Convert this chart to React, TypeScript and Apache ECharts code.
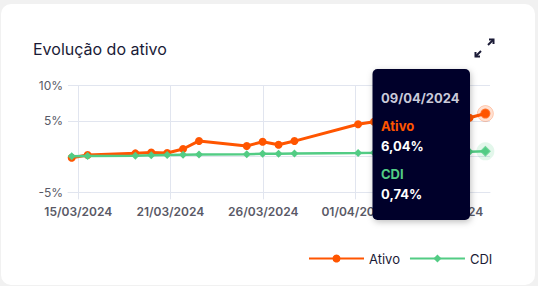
import React, { useEffect, useRef } from "react";
import * as echarts from "echarts";

const dates = [
  "14/03/2024", "15/03/2024", "18/03/2024", "19/03/2024", "20/03/2024", "21/03/2024",
  "22/03/2024", "25/03/2024", "26/03/2024", "27/03/2024", "28/03/2024", "01/04/2024",
  "02/04/2024", "03/04/2024", "04/04/2024", "05/04/2024", "08/04/2024", "09/04/2024",
];
const ativo = [-0.15, 0.22, 0.46, 0.57, 0.52, 1.07, 2.2, 1.5, 2.08, 1.66, 2.18, 4.53, 4.9, 5.1, 5.25, 5.3, 5.45, 6.04];
const cdi = [0.05, 0.09, 0.14, 0.18, 0.22, 0.26, 0.3, 0.35, 0.39, 0.42, 0.45, 0.5, 0.53, 0.57, 0.61, 0.65, 0.7, 0.74];

const tickLabels = ["15/03/2024", "21/03/2024", "26/03/2024", "01/04/2024", "07/04/2024"];
const tickDays = [0.415, 6.2, 12.04, 17.85, 23.66];

const yTicks = { min: -5, max: 10, step: 5 };

const ORANGE = "#ff5500";
const GREEN = "#52cc84";
const NAVY = "#1a1a36";
const GRID = "#e1e5ef";
const FONT = "Inter, 'Noto Sans', sans-serif";

function dayOffset(s: string): number {
  const [d, m, y] = s.split("/").map(Number);
  const [d0, m0, y0] = dates[0].split("/").map(Number);
  return (Date.UTC(y, m - 1, d) - Date.UTC(y0, m0 - 1, d0)) / 86400000;
}

function fmtPct(v: number): string {
  return v.toFixed(2).replace(".", ",") + "%";
}

export default function App() {
  const ref = useRef<HTMLDivElement>(null);
  useEffect(() => {
    if (!ref.current) return;
    const chart = echarts.init(ref.current, null, { renderer: "svg" });
    const xs = dates.map(dayOffset);
    const last = dates.length - 1;
    const TZ = 200;
    const option: any = {
      animation: false,
      backgroundColor: "#f1f1f1",
      textStyle: { fontFamily: FONT },
      grid: { left: 68, right: 48, top: 85.3, bottom: 93.7 },
      xAxis: {
        type: "value",
        min: -0.233,
        max: 26.29,
        axisLine: { show: true, onZero: false, lineStyle: { color: GRID } },
        axisTick: { show: true, length: 7, customValues: tickDays, lineStyle: { color: GRID } },
        axisLabel: {
          customValues: tickDays,
          margin: 13,
          color: "#595966",
          fontSize: 12,
          fontWeight: 600,
          fontFamily: FONT,
          formatter: (v: number) => {
            let best = 0;
            tickDays.forEach((t, i) => {
              if (Math.abs(t - v) < Math.abs(tickDays[best] - v)) best = i;
            });
            return tickLabels[best];
          },
        },
        splitLine: { show: true, lineStyle: { color: GRID } },
      },
      yAxis: {
        type: "value",
        min: yTicks.min,
        max: yTicks.max,
        interval: yTicks.step,
        axisLine: { show: false },
        axisTick: { show: false },
        axisLabel: {
          margin: 5,
          color: "#595966",
          fontSize: 12,
          fontFamily: FONT,
          formatter: (v: number) => (v === 0 ? "" : v + "%"),
        },
        splitLine: { lineStyle: { color: GRID } },
      },
      legend: {
        left: 303,
        top: 247,
        itemWidth: 55,
        itemHeight: 10,
        itemGap: 9,
        textStyle: { color: NAVY, fontSize: 13, fontFamily: FONT },
        data: ["Ativo", "CDI"],
      },
      series: [
        {
          name: "Ativo",
          type: "line",
          data: xs.map((x, i) => [x, ativo[i]]),
          symbol: "circle",
          symbolSize: 8,
          showSymbol: true,
          lineStyle: { color: ORANGE, width: 3 },
          itemStyle: { color: ORANGE },
          z: 2,
        },
        {
          name: "CDI",
          type: "line",
          data: xs.map((x, i) => [x, cdi[i]]),
          symbol: "diamond",
          symbolSize: 8,
          lineStyle: { color: GREEN, width: 2.5 },
          itemStyle: { color: GREEN },
          z: 3,
        },
        {
          name: "haloA",
          type: "scatter",
          data: [[xs[last], ativo[last]]],
          symbol: "circle",
          symbolSize: 16,
          itemStyle: { color: "rgba(255,85,0,0.22)", borderColor: "rgba(255,85,0,0.3)", borderWidth: 1 },
          z: 4,
          silent: true,
        },
        {
          name: "dotA",
          type: "scatter",
          data: [[xs[last], ativo[last]]],
          symbol: "circle",
          symbolSize: 10,
          itemStyle: { color: ORANGE },
          z: 5,
          silent: true,
        },
        {
          name: "haloC",
          type: "scatter",
          data: [[xs[last], cdi[last]]],
          symbol: "circle",
          symbolSize: 18,
          itemStyle: { color: "rgba(82,204,132,0.2)" },
          z: 4,
          silent: true,
        },
        {
          name: "dotC",
          type: "scatter",
          data: [[xs[last], cdi[last]]],
          symbol: "diamond",
          symbolSize: 11,
          itemStyle: { color: GREEN },
          z: 5,
          silent: true,
        },
      ],
      graphic: [
        {
          type: "rect",
          z: -10,
          shape: { x: 1, y: 4, width: 534, height: 281, r: 10 },
          style: { fill: "#ffffff" },
        },
        {
          type: "text",
          x: 33,
          y: 49,
          style: {
            text: "Evolução do ativo",
            fill: NAVY,
            font: `400 16px ${FONT}`,
            textVerticalAlign: "middle",
          },
        },
        { type: "line", z: 50, shape: { x1: 488, y1: 45, x2: 493.5, y2: 39.5 }, style: { stroke: NAVY, lineWidth: 2 } },
        { type: "polyline", z: 50, shape: { points: [[489, 39.5], [493.5, 39.5], [493.5, 44]] }, style: { stroke: NAVY, lineWidth: 2, fill: null } },
        { type: "line", z: 50, shape: { x1: 481, y1: 51, x2: 475.5, y2: 56.5 }, style: { stroke: NAVY, lineWidth: 2 } },
        { type: "polyline", z: 50, shape: { points: [[475.5, 52], [475.5, 56.5], [480, 56.5]] }, style: { stroke: NAVY, lineWidth: 2, fill: null } },
        {
          type: "rect",
          z: TZ,
          shape: { x: 372.5, y: 69, width: 97.5, height: 151, r: 5 },
          style: { fill: "#03002a", shadowBlur: 6, shadowColor: "rgba(0,0,0,0.25)", shadowOffsetX: 1, shadowOffsetY: 2 },
        },
        {
          type: "text", z: TZ + 1, x: 381, y: 97.5,
          style: { text: dates[last], fill: "#c9c9d9", font: `700 13px ${FONT}`, textVerticalAlign: "middle" },
        },
        {
          type: "text", z: TZ + 1, x: 381, y: 126,
          style: { text: "Ativo", fill: ORANGE, font: `700 13px ${FONT}`, textVerticalAlign: "middle" },
        },
        {
          type: "text", z: TZ + 1, x: 381, y: 146,
          style: { text: fmtPct(ativo[last]), fill: "#ffffff", font: `700 13px ${FONT}`, textVerticalAlign: "middle" },
        },
        {
          type: "text", z: TZ + 1, x: 381, y: 174,
          style: { text: "CDI", fill: GREEN, font: `700 13px ${FONT}`, textVerticalAlign: "middle" },
        },
        {
          type: "text", z: TZ + 1, x: 381, y: 193.5,
          style: { text: fmtPct(cdi[last]), fill: "#ffffff", font: `700 13px ${FONT}`, textVerticalAlign: "middle" },
        },
      ],
    };
    chart.setOption(option);
    return () => chart.dispose();
  }, []);
  return (
    <div
      ref={ref}
      style={{ position: "fixed", left: 0, top: 0, width: 538, height: 286 }}
    />
  );
}
